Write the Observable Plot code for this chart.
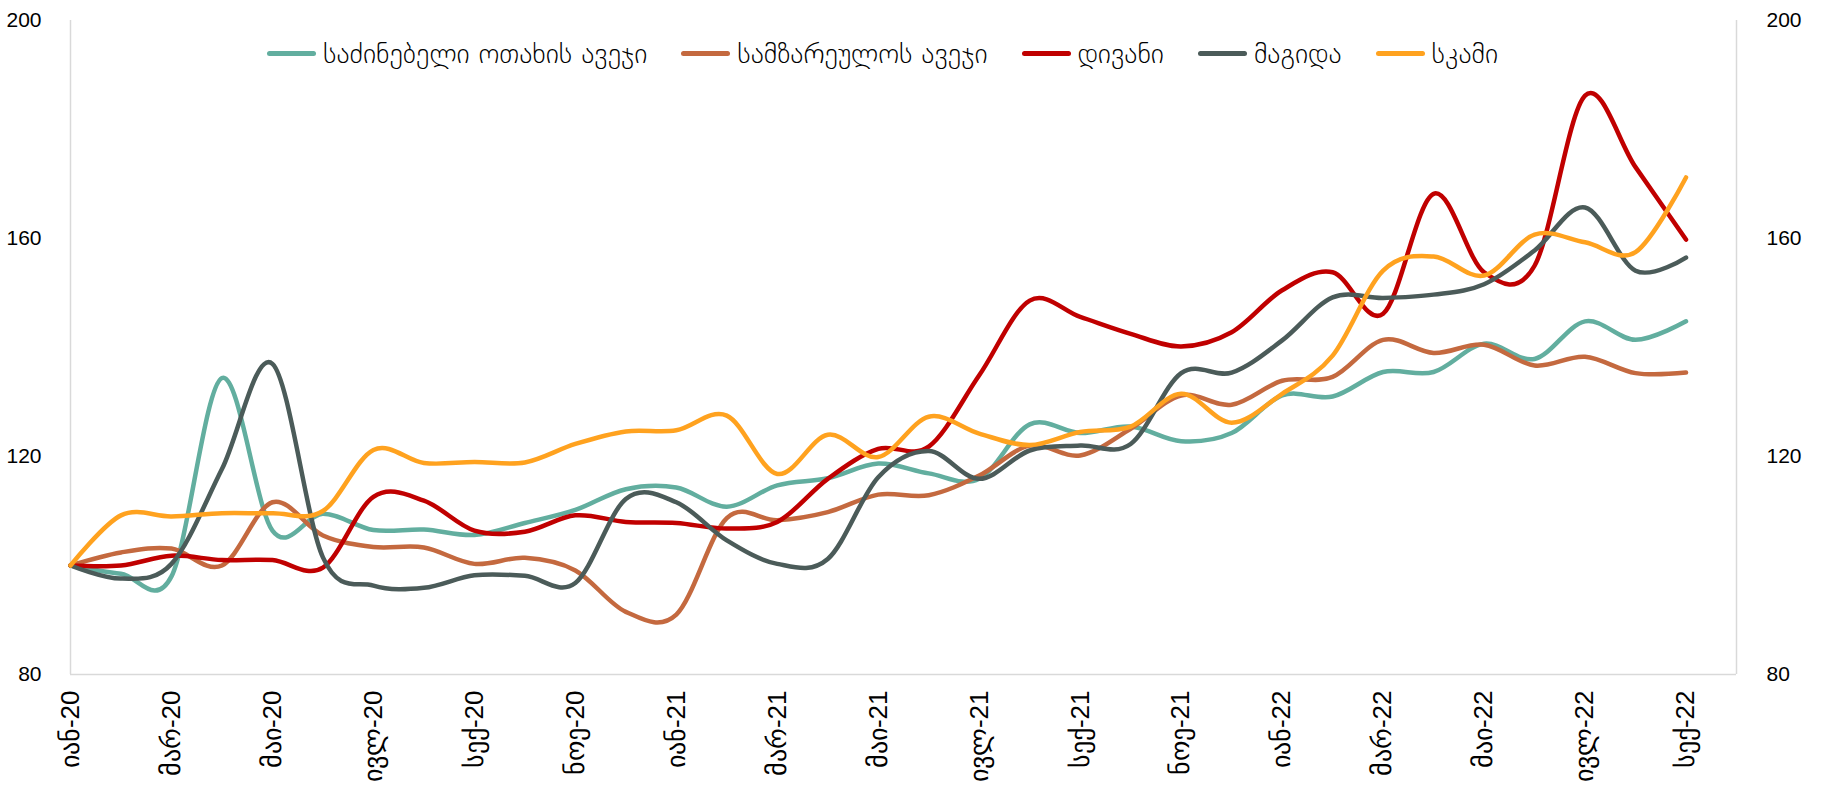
<!DOCTYPE html>
<html>
<head>
<meta charset="utf-8">
<script src="https://cdn.jsdelivr.net/npm/d3@7"></script>
<script src="https://cdn.jsdelivr.net/npm/@observablehq/plot@0.6"></script>
<style>
  html, body { margin: 0; padding: 0; background: #fff; }
  #wrap { position: relative; width: 1822px; height: 786px; overflow: hidden; }
  #legend {
    position: absolute; top: 37px; left: 267px;
    display: flex; align-items: center; gap: 34px;
    font-family: "DejaVu Sans", "Liberation Sans", sans-serif; font-size: 28px; font-weight: 200; color: #000;
    white-space: nowrap;
  }
  .item { display: flex; align-items: center; gap: 7px; }
  .swatch { width: 49px; height: 5px; border-radius: 3px; }
  .xaxis text { font-size: 26px; }
</style>
</head>
<body>
<div id="wrap"><div id="legend"></div></div>
<script>
const months = [
  "იან-20","თებ-20","მარ-20","აპრ-20","მაი-20","ივნ-20","ივლ-20","აგვ-20","სექ-20","ოქტ-20","ნოე-20","დეკ-20",
  "იან-21","თებ-21","მარ-21","აპრ-21","მაი-21","ივნ-21","ივლ-21","აგვ-21","სექ-21","ოქტ-21","ნოე-21","დეკ-21",
  "იან-22","თებ-22","მარ-22","აპრ-22","მაი-22","ივნ-22","ივლ-22","აგვ-22","სექ-22"
];
const seriesNames = ["საძინებელი ოთახის ავეჯი", "სამზარეულოს ავეჯი", "დივანი", "მაგიდა", "სკამი"];
const colors = ["#62ae9f", "#c4693f", "#c00000", "#4b5b59", "#ffa21f"];

const bedroom = [100, 98.5, 98.0, 134.4, 106.4, 109.5, 106.5, 106.6, 105.6, 107.8, 110.2, 114.0,
  114.3, 110.8, 114.7, 116.0, 118.7, 116.9, 115.9, 125.9, 124.3, 125.5, 122.8, 124.3,
  131.2, 131.0, 135.5, 135.5, 140.7, 137.9, 144.8, 141.4, 144.8];
const kitchen = [100, 102.4, 103.1, 100.0, 111.6, 105.5, 103.4, 103.3, 100.3, 101.4, 99.1, 91.5,
  91.0, 108.7, 108.3, 109.8, 113.0, 112.9, 116.5, 122.0, 120.2, 125.1, 131.2, 129.5,
  133.9, 134.6, 141.4, 139.0, 140.5, 136.7, 138.3, 135.3, 135.4];
const sofa = [100, 100.0, 101.8, 101.0, 101.0, 99.6, 112.6, 111.9, 106.4, 106.2, 109.2, 108.0,
  107.8, 106.8, 108.0, 115.9, 121.4, 121.8, 134.9, 148.6, 145.6, 142.5, 140.2, 142.8,
  150.5, 153.8, 146.2, 168.2, 153.8, 155.0, 186.2, 173.1, 159.8];
const table = [100, 97.6, 100.3, 117.7, 137.0, 101.5, 96.3, 95.9, 98.2, 98.1, 96.8, 112.2,
  111.6, 104.6, 100.3, 101.2, 116.2, 121.0, 115.9, 121.1, 122.0, 122.3, 135.3, 135.4,
  141.3, 149.2, 149.1, 149.7, 151.6, 157.8, 165.7, 154.1, 156.5];
const chair = [100, 109.2, 109.0, 109.6, 109.6, 110.0, 121.2, 118.8, 119.0, 118.9, 122.3, 124.6,
  124.8, 127.5, 116.8, 124.0, 119.9, 127.3, 124.2, 122.1, 124.5, 125.5, 131.5, 126.2,
  131.5, 138.5, 154.1, 156.7, 153.2, 160.7, 159.3, 157.5, 171.2];
const yTicks = [80, 120, 160, 200];

const seriesValues = [bedroom, kitchen, sofa, table, chair];
const rows = seriesNames.flatMap((s, k) => seriesValues[k].map((v, i) => ({i, v, s})));
const xMax = months.length; // axis extends one period beyond the last month

const chart = Plot.plot({
  width: 1822, height: 786,
  marginLeft: 70, marginRight: 86, marginTop: 20, marginBottom: 112,
  style: {fontFamily: "'Liberation Sans', Arial, sans-serif", fontSize: "21px", color: "#000", background: "#fff"},
  x: {domain: [0, xMax]},
  y: {domain: [80, 200]},
  color: {domain: seriesNames, range: colors},
  marks: [
    Plot.ruleX([0, xMax], {stroke: "#d9d9d9", strokeWidth: 1.5}),
    Plot.ruleY([80], {stroke: "#d9d9d9", strokeWidth: 1.5}),
    Plot.axisY({anchor: "left", ticks: yTicks, tickSize: 0, tickPadding: 29, label: null}),
    Plot.axisY({anchor: "right", ticks: yTicks, tickSize: 0, tickPadding: 30, label: null}),
    Plot.axisX({ticks: d3.range(0, months.length, 2), tickFormat: i => months[i], tickRotate: -90,
      tickSize: 0, tickPadding: 16, label: null, className: "xaxis"}),
    Plot.line(rows, {x: "i", y: "v", z: "s", stroke: "s", strokeWidth: 4.5, curve: "cardinal",
      strokeLinecap: "round", strokeLinejoin: "round"})
  ]
});
document.getElementById("wrap").prepend(chart);

const legend = document.getElementById("legend");
seriesNames.forEach((name, k) => {
  const item = document.createElement("div");
  item.className = "item";
  const sw = document.createElement("span");
  sw.className = "swatch";
  sw.style.background = colors[k];
  const t = document.createElement("span");
  t.textContent = name;
  item.append(sw, t);
  legend.append(item);
});
</script>
</body>
</html>
